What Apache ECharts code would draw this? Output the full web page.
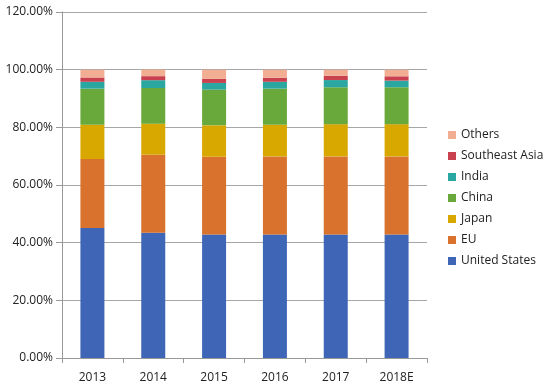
<!DOCTYPE html>
<html><head><meta charset="utf-8">
<script src="https://cdn.jsdelivr.net/npm/echarts@6/dist/echarts.min.js"></script>
<style>html,body{margin:0;padding:0;background:#fff}#c{width:548px;height:391px}</style>
</head><body><div id="c"></div>
<script>
var categories = ['2013','2014','2015','2016','2017','2018E'];
var unitedStates = [45.1, 43.4, 42.8, 42.8, 42.8, 42.8];
var eu = [23.9, 27.1, 27.0, 27.1, 27.1, 27.1];
var japan = [11.9, 10.75, 10.9, 11.0, 11.2, 11.2];
var china = [12.5, 12.4, 12.4, 12.5, 12.8, 12.8];
var india = [2.4, 2.7, 2.3, 2.4, 2.5, 2.3];
var southeastAsia = [1.5, 1.4, 1.4, 1.4, 1.5, 1.5];
var others = [2.7, 2.3, 3.2, 2.8, 2.1, 2.3];
var yTicks = [0, 20, 40, 60, 80, 100, 120];

var names = ['United States','EU','Japan','China','India','Southeast Asia','Others'];
var datasets = [unitedStates, eu, japan, china, india, southeastAsia, others];
var colors = ['#3f66b6','#d8722c','#d9a800','#69a93b','#2aa7a0','#c9404f','#f2ae93'];

var chart = echarts.init(document.getElementById('c'));
var series = names.map(function(n,i){
  return {name:n, type:'bar', stack:'total', barWidth:24, data:datasets[i],
    itemStyle:{color:colors[i]}};
});
chart.setOption({
  animation:false,
  textStyle:{fontFamily:'"Open Sans", "Liberation Sans", sans-serif'},
  grid:{left:62, right:121, top:12, bottom:33},
  legend:{orient:'vertical', left:443, top:124, itemWidth:8, itemHeight:8, itemGap:9,
    data:names.slice().reverse(),
    textStyle:{fontSize:12, color:'#222', fontFamily:'"Open Sans", sans-serif'}, icon:'rect'},
  xAxis:{type:'category', data:categories,
    axisLine:{lineStyle:{color:'#999'}},
    axisTick:{show:true, length:5, lineStyle:{color:'#999'}},
    axisLabel:{color:'#222', fontSize:12, margin:14}},
  yAxis:{type:'value', min:yTicks[0], max:yTicks[yTicks.length-1], interval:20,
    axisLine:{show:true, lineStyle:{color:'#999'}},
    axisTick:{show:true, length:6, lineStyle:{color:'#999'}},
    splitLine:{lineStyle:{color:'#a6a6a6'}},
    axisLabel:{color:'#222', fontSize:12, margin:9, formatter:function(v){return v.toFixed(2)+'%';}}},
  series:series
});
</script></body></html>
